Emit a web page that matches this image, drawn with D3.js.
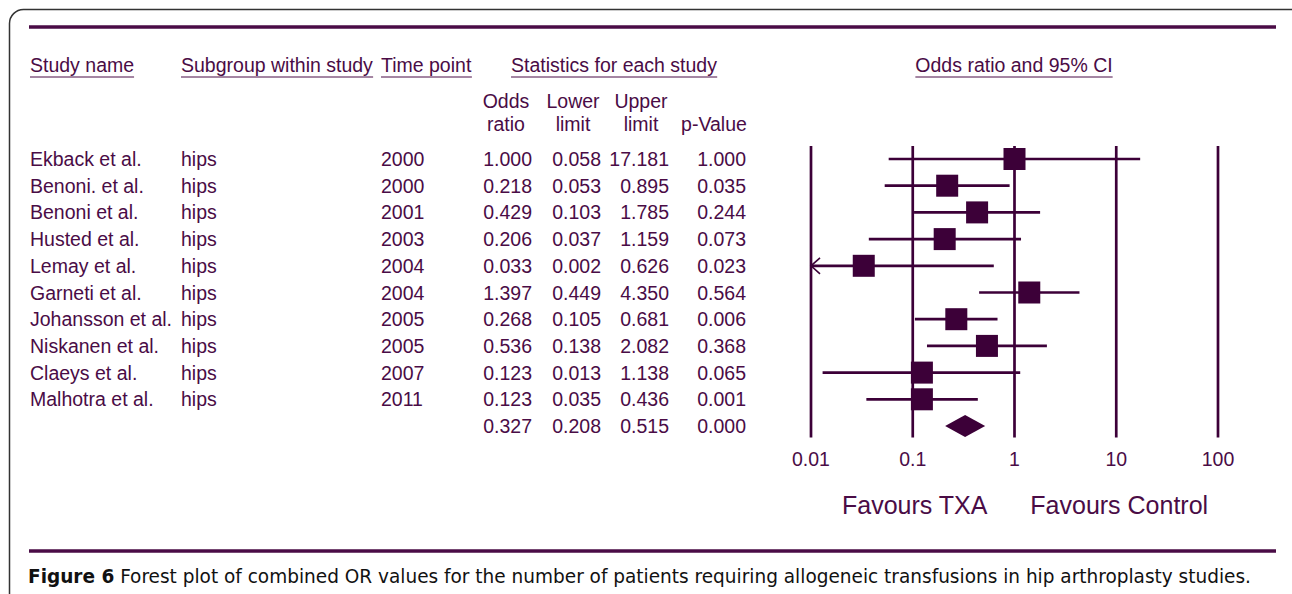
<!DOCTYPE html>
<html><head><meta charset="utf-8">
<script src="https://cdn.jsdelivr.net/npm/d3@7"></script>
<style>body{margin:0;background:#fff}svg{display:block}</style>
</head><body>
<svg id="c" width="1292" height="594"></svg>
<script>
const studies = ["Ekback et al.","Benoni. et al.","Benoni et al.","Husted et al.","Lemay et al.","Garneti et al.","Johansson et al.","Niskanen et al.","Claeys et al.","Malhotra et al."];
const subgroups = ["hips","hips","hips","hips","hips","hips","hips","hips","hips","hips"];
const years = ["2000","2000","2001","2003","2004","2004","2005","2005","2007","2011"];
const oddsRatios = [1.000,0.218,0.429,0.206,0.033,1.397,0.268,0.536,0.123,0.123];
const lowerLimits = [0.058,0.053,0.103,0.037,0.002,0.449,0.105,0.138,0.013,0.035];
const upperLimits = [17.181,0.895,1.785,1.159,0.626,4.350,0.681,2.082,1.138,0.436];
const pValues = [1.000,0.035,0.244,0.073,0.023,0.564,0.006,0.368,0.065,0.001];
const summary = {or:0.327, lower:0.208, upper:0.515, p:0.000};
const axisTicks = [0.01,0.1,1,10,100];
const tickLabels = ["0.01","0.1","1","10","100"];

const TXT = "#4a0c46", MARK = "#3c0038";
const FONT = "'Liberation Sans', Arial, Helvetica, sans-serif";
const FS = 19.5;
const svg = d3.select("#c");
const f3 = d3.format(".3f");

// frame
svg.append("rect").attr("x",9.5).attr("y",9.5).attr("width",1296).attr("height",640)
  .attr("rx",14).attr("fill","none").attr("stroke","#333").attr("stroke-width",1.5);
svg.append("line").attr("x1",29).attr("x2",1276).attr("y1",27).attr("y2",27).attr("stroke",TXT).attr("stroke-width",3.5);
svg.append("line").attr("x1",29).attr("x2",1276).attr("y1",551).attr("y2",551).attr("stroke",TXT).attr("stroke-width",3.5);

// scales
const x = d3.scaleLog().domain([0.01,100]).range([811,1218]);
const rowsN = studies.length + 1;
const y = d3.scaleLinear().domain([0, rowsN-1]).range([159, 426]);

const g = svg.append("g").attr("font-family",FONT).attr("fill",TXT);

// headers
function hdr(txt, x0, anchor){
  const t = g.append("text").attr("x",x0).attr("y",72).attr("font-size",FS).attr("text-anchor",anchor||"start").text(txt);
  const bb = t.node().getBBox();
  g.append("line").attr("x1",bb.x).attr("x2",bb.x+bb.width).attr("y1",77).attr("y2",77).attr("stroke",TXT).attr("stroke-width",1);
}
hdr("Study name",30);
hdr("Subgroup within study",181);
hdr("Time point",381);
hdr("Statistics for each study",614,"middle");
hdr("Odds ratio and 95% CI",1014,"middle");

const colHdr = [["Odds","ratio",506],["Lower","limit",573],["Upper","limit",641],["","p-Value",714]];
colHdr.forEach(c=>{
  g.append("text").attr("x",c[2]).attr("y",108).attr("font-size",FS).attr("text-anchor","middle").text(c[0]);
  g.append("text").attr("x",c[2]).attr("y",131).attr("font-size",FS).attr("text-anchor","middle").text(c[1]);
});

// rows text
const rows = studies.map((s,i)=>({s, sub:subgroups[i], yr:years[i], or:oddsRatios[i], lo:lowerLimits[i], up:upperLimits[i], p:pValues[i], i}));
const rowText = g.selectAll("g.row").data(rows).join("g").attr("class","row")
  .attr("transform",d=>`translate(0,${y(d.i)+7})`).attr("font-size",FS);
rowText.append("text").attr("x",30).text(d=>d.s);
rowText.append("text").attr("x",181).text(d=>d.sub);
rowText.append("text").attr("x",381).text(d=>d.yr);
const numCols = [["or",532],["lo",601],["up",669],["p",746]];
numCols.forEach(([k,xx])=>{
  rowText.append("text").attr("x",xx).attr("text-anchor","end").text(d=>f3(d[k]));
});
const sumG = g.append("g").attr("transform",`translate(0,${y(rowsN-1)+7})`).attr("font-size",FS);
[[summary.or,532],[summary.lower,601],[summary.upper,669],[summary.p,746]].forEach(([v,xx])=>{
  sumG.append("text").attr("x",xx).attr("text-anchor","end").text(f3(v));
});

// plot
const plot = svg.append("g");
plot.selectAll("line.v").data(axisTicks).join("line").attr("class","v")
  .attr("x1",d=>x(d)).attr("x2",d=>x(d)).attr("y1",146).attr("y2",437.5)
  .attr("stroke",MARK).attr("stroke-width",2.7);

const clampX = v => x(Math.max(0.01, Math.min(100, v)));
plot.selectAll("line.ci").data(rows).join("line").attr("class","ci")
  .attr("x1",d=>clampX(d.lo)).attr("x2",d=>clampX(d.up))
  .attr("y1",d=>y(d.i)).attr("y2",d=>y(d.i))
  .attr("stroke",MARK).attr("stroke-width",2.7);
// arrows for clipped
plot.selectAll("path.arr").data(rows.filter(d=>d.lo<0.01)).join("path").attr("class","arr")
  .attr("d",d=>`M${x(0.01)+9},${y(d.i)-8} L${x(0.01)},${y(d.i)} L${x(0.01)+9},${y(d.i)+8}`)
  .attr("fill","none").attr("stroke",MARK).attr("stroke-width",1.6);
const sq = 22;
plot.selectAll("rect.sq").data(rows).join("rect").attr("class","sq")
  .attr("x",d=>x(d.or)-sq/2).attr("y",d=>y(d.i)-sq/2).attr("width",sq).attr("height",sq)
  .attr("fill",MARK);
// diamond
const dy = y(rowsN-1);
plot.append("path")
  .attr("d",`M${x(summary.lower)},${dy} L${x(summary.or)},${dy-11} L${x(summary.upper)},${dy} L${x(summary.or)},${dy+11} Z`)
  .attr("fill",MARK);

// tick labels
g.selectAll("text.tl").data(axisTicks).join("text").attr("class","tl")
  .attr("x",d=>x(d)).attr("y",466).attr("font-size",FS).attr("text-anchor","middle")
  .text((d,i)=>tickLabels[i]);

g.append("text").attr("x",x(0.1)+2).attr("y",514).attr("font-size",25).attr("text-anchor","middle").text("Favours TXA");
g.append("text").attr("x",x(10)+3).attr("y",514).attr("font-size",25).attr("text-anchor","middle").text("Favours Control");

// caption
const cap = svg.append("text").attr("x",28).attr("y",583).attr("font-size",20)
  .attr("font-family","'DejaVu Sans Condensed','Liberation Sans Narrow',sans-serif").attr("fill","#111")
  .attr("textLength",1223).attr("lengthAdjust","spacingAndGlyphs");
cap.append("tspan").attr("font-weight","bold").text("Figure 6");
cap.append("tspan").text(" Forest plot of combined OR values for the number of patients requiring allogeneic transfusions in hip arthroplasty studies.");
</script>
</body></html>
